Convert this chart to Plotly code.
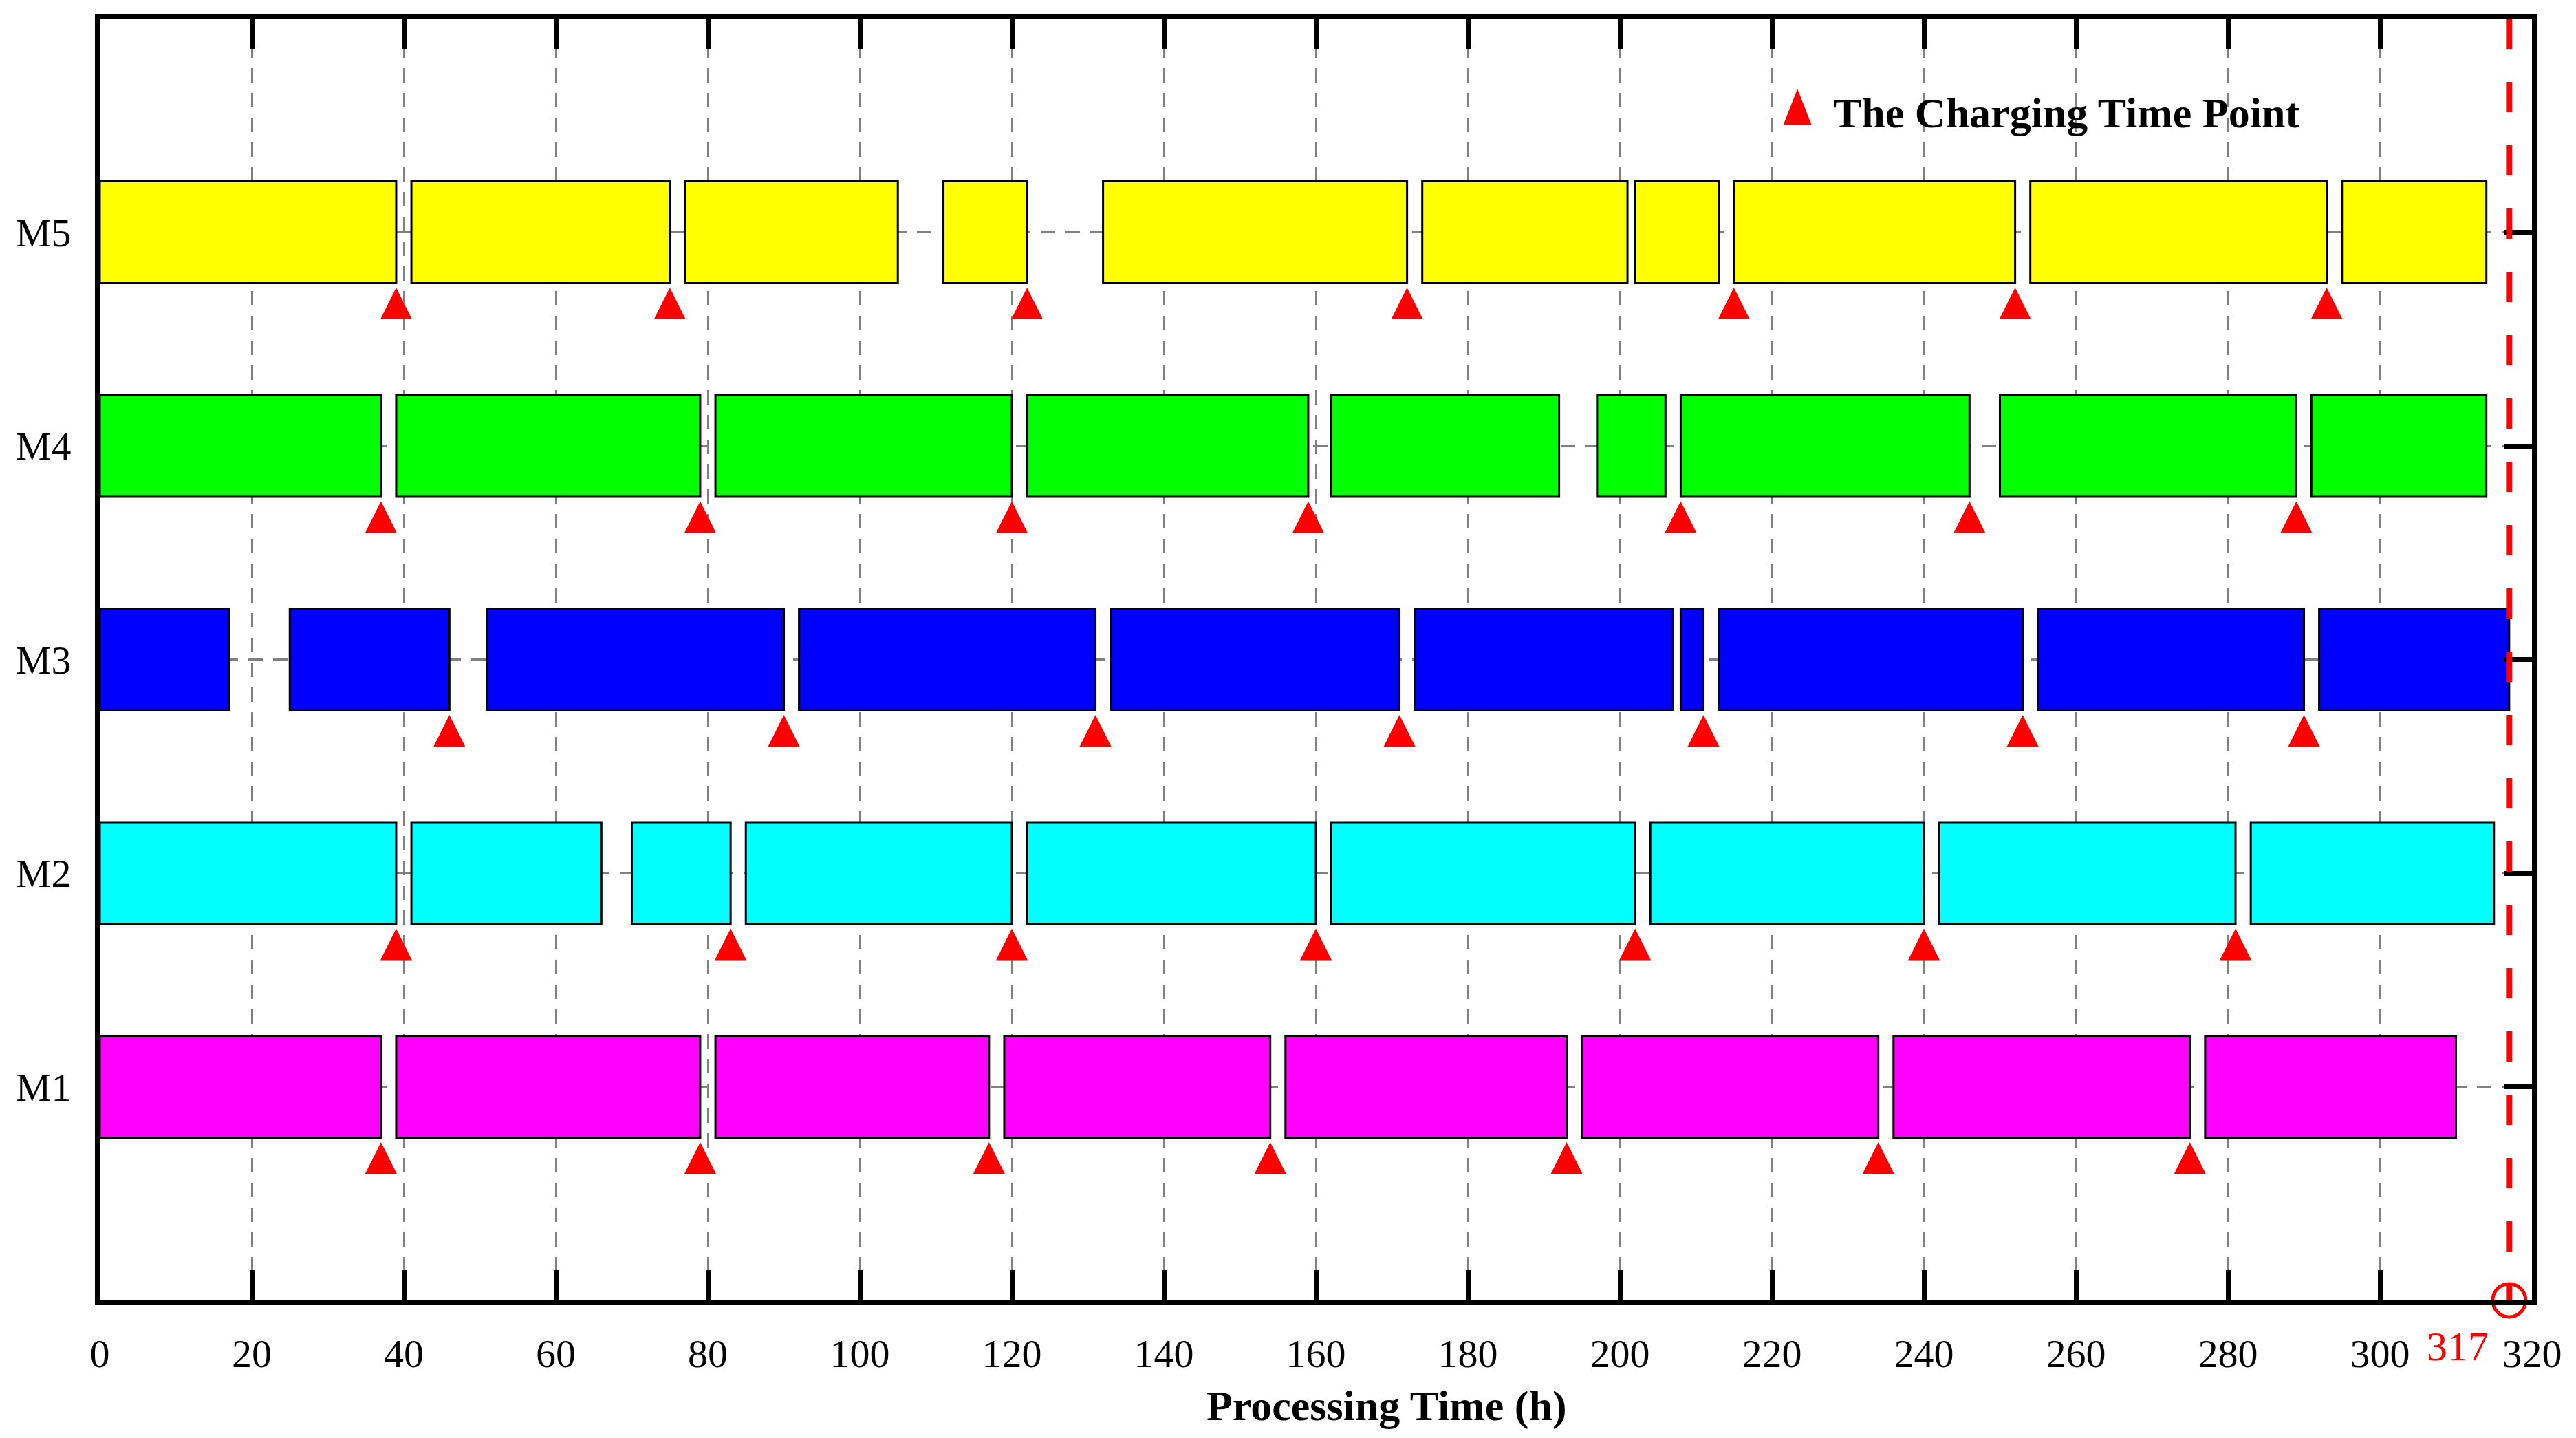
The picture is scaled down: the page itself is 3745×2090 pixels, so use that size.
import plotly.graph_objects as go

# machine rows (bottom to top)
machines = ["M1", "M2", "M3", "M4", "M5"]
colors = ["#FF00FF", "#00FFFF", "#0000FF", "#00FF00", "#FFFF00"]

# processing blocks per machine: start / end times (h)
m1_start = [0, 39, 81, 119, 156, 195, 236, 277]
m1_end = [37, 79, 117, 154, 193, 234, 275, 310]
m2_start = [0, 41, 70, 85, 122, 162, 204, 242, 283]
m2_end = [39, 66, 83, 120, 160, 202, 240, 281, 315]
m3_start = [0, 25, 51, 92, 133, 173, 208, 213, 255, 292]
m3_end = [17, 46, 90, 131, 171, 207, 211, 253, 290, 317]
m4_start = [0, 39, 81, 122, 162, 197, 208, 250, 291]
m4_end = [37, 79, 120, 159, 192, 206, 246, 289, 314]
m5_start = [0, 41, 77, 111, 132, 174, 202, 215, 254, 295]
m5_end = [39, 75, 105, 122, 172, 201, 213, 252, 293, 314]

# charging time points per machine
m1_charge = [37, 79, 117, 154, 193, 234, 275]
m2_charge = [39, 83, 120, 160, 202, 240, 281]
m3_charge = [46, 90, 131, 171, 211, 253, 290]
m4_charge = [37, 79, 120, 159, 208, 246, 289]
m5_charge = [39, 75, 122, 172, 215, 252, 293]

makespan = 317
x_ticks = list(range(0, 321, 20))

starts = [m1_start, m2_start, m3_start, m4_start, m5_start]
ends = [m1_end, m2_end, m3_end, m4_end, m5_end]
charges = [m1_charge, m2_charge, m3_charge, m4_charge, m5_charge]

FONT = "Liberation Serif"
fig = go.Figure()

for i, name in enumerate(machines):
    row = i + 1
    fig.add_trace(go.Bar(
        orientation="h",
        y=[row] * len(starts[i]),
        base=starts[i],
        x=[e - s for s, e in zip(starts[i], ends[i])],
        width=0.476,
        marker=dict(color=colors[i], line=dict(color="black", width=3)),
        name=name, showlegend=False,
    ))

for i, name in enumerate(machines):
    row = i + 1
    fig.add_trace(go.Scatter(
        x=charges[i], y=[row - 0.259] * len(charges[i]),
        mode="markers",
        marker=dict(symbol="arrow-up", size=46, color="#FF0000",
                    line=dict(width=0)),
        showlegend=False, cliponaxis=False,
    ))

# makespan marker on the time axis
fig.add_trace(go.Scatter(
    x=[makespan], y=[0], mode="markers", yaxis="y2",
    marker=dict(symbol="circle-open", size=48, color="#FF0000",
                line=dict(width=5, color="#FF0000")),
    showlegend=False, cliponaxis=False,
))

fig.add_shape(type="line", xref="x", yref="y", x0=makespan, x1=makespan,
              y0=6, y1=0, line=dict(color="#FF0000", width=9, dash="44px,48px"))

# legend entry drawn by hand
lx, ly = 0.698, 0.9312
fig.add_shape(type="path", xref="paper", yref="paper",
              path=f"M {lx - 0.0058},{ly - 0.0141} L {lx},{ly + 0.0141} L {lx + 0.0058},{ly - 0.0141} Z",
              fillcolor="#FF0000", line=dict(width=0))
fig.add_annotation(xref="paper", yref="paper", x=0.7122, y=0.9265,
                   xanchor="left", yanchor="middle", showarrow=False,
                   text="<b>The Charging Time Point</b>",
                   font=dict(family=FONT, size=62, color="black"))

fig.add_annotation(xref="paper", yref="paper", x=0.529, y=-0.0826,
                   xanchor="center", yanchor="middle", showarrow=False,
                   text="<b>Processing Time (h)</b>",
                   font=dict(family=FONT, size=62, color="black"))
fig.add_annotation(xref="x", yref="paper", x=makespan, y=-0.036,
                   xanchor="right", yanchor="middle", xshift=-28, showarrow=False,
                   text=str(makespan),
                   font=dict(family=FONT, size=60, color="#FF0000"))

# page body has an 8px margin, so the figure is 16px smaller than the window
fig.update_layout(
    width=3729, height=2074,
    margin=dict(l=137, r=54, t=17, b=192),
    plot_bgcolor="white", paper_bgcolor="white",
    barmode="overlay",
    font=dict(family=FONT, size=58, color="black"),
    xaxis=dict(range=[0, 320], tickvals=x_ticks, ticks="inside", ticklen=44,
               tickwidth=7, tickcolor="black", showline=True, linewidth=7,
               linecolor="black", mirror="ticks", showgrid=True,
               gridcolor="#808080", gridwidth=3, griddash="21px,15px",
               zeroline=False, ticklabelstandoff=20,
               tickfont=dict(family=FONT, size=58)),
    yaxis=dict(range=[0, 6], tickvals=[1, 2, 3, 4, 5], ticktext=machines,
               ticks="", showline=True, linewidth=7, linecolor="black",
               mirror=True, showgrid=True, gridcolor="#808080", gridwidth=3,
               griddash="21px,15px", zeroline=False, ticklabelstandoff=23,
               tickfont=dict(family=FONT, size=58)),
    yaxis2=dict(range=[0, 6], overlaying="y", side="right",
                tickvals=[1, 2, 3, 4, 5], ticks="inside", ticklen=41,
                tickwidth=7, tickcolor="black", showticklabels=False,
                showgrid=False, showline=False, zeroline=False),
)

fig.write_html("out.html")
